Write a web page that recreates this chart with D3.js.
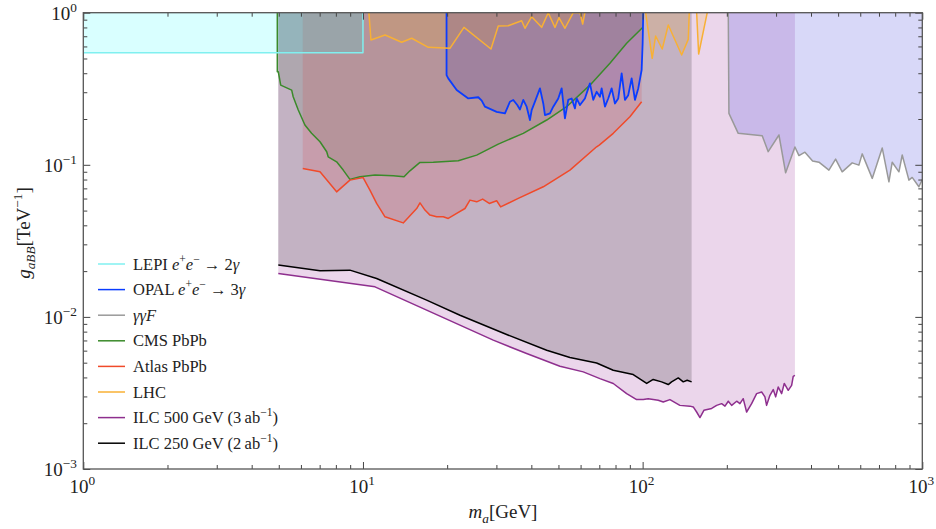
<!DOCTYPE html>
<html>
<head>
<meta charset="utf-8">
<script src="https://cdn.jsdelivr.net/npm/d3@7/dist/d3.min.js"></script>
<style>
  body { margin: 0; background: #fff; }
  text { font-family: "Liberation Serif", "DejaVu Serif", serif; fill: #222; }
</style>
</head>
<body>
<script>
// limits, [m_a in GeV, g_aBB in TeV^-1]
const lepi = [[1, 0.545], [10, 0.545], [10, 1]];
const opal = [[19.9, 1], [19.9, 0.389], [20.18, 0.370], [21.63, 0.310], [23.80, 0.273], [25.84, 0.278],
  [26.58, 0.264], [27.31, 0.241], [30.06, 0.223], [32.19, 0.218], [33.55, 0.260], [34.47, 0.267],
  [35.62, 0.247], [36.42, 0.231], [37.42, 0.267], [38.48, 0.241], [39.54, 0.197], [40.11, 0.229],
  [41.21, 0.260], [42.94, 0.318], [44.13, 0.253], [44.75, 0.212], [46.63, 0.218], [47.91, 0.241],
  [49.93, 0.273], [51.34, 0.318], [52.75, 0.202], [54.20, 0.267], [55.74, 0.273], [57.28, 0.235],
  [58.09, 0.273], [59.69, 0.247], [62.18, 0.273], [64.80, 0.343], [66.59, 0.267], [68.47, 0.302],
  [70.36, 0.280], [71.36, 0.318], [73.33, 0.241], [75.34, 0.273], [77.49, 0.318], [79.62, 0.253],
  [81.82, 0.273], [84.14, 0.399], [86.45, 0.267], [88.83, 0.287], [91.35, 0.370], [93.87, 0.267],
  [96.45, 0.318], [99.18, 0.420], [100, 0.629], [100.5, 1]];
const ggf = [[202.4, 1], [203.5, 0.218], [219.7, 0.161], [267.7, 0.155], [281.2, 0.122], [307.2, 0.157],
  [324.6, 0.0886], [350.4, 0.131], [362.2, 0.115], [380.5, 0.121], [405.3, 0.106], [426.9, 0.104],
  [463.6, 0.0923], [489.8, 0.109], [517.1, 0.0899], [561.5, 0.103], [593.3, 0.0995], [609.7, 0.118],
  [662.2, 0.0814], [718.9, 0.129], [759.7, 0.0773], [780.6, 0.104], [824.9, 0.0899], [847.6, 0.116],
  [895.6, 0.0793], [920.2, 0.0826], [972.3, 0.0717], [1000, 0.08]];
const cms = [[4.94, 1], [4.94, 0.409], [4.98, 0.409], [5.08, 0.334], [5.56, 0.310], [5.63, 0.280],
  [5.87, 0.229], [6.20, 0.1825], [6.55, 0.161], [7.02, 0.1417], [7.42, 0.1218], [7.51, 0.1129],
  [8.05, 0.1046], [8.50, 0.0923], [8.98, 0.0802], [9.76, 0.0834], [11.04, 0.0856], [12.83, 0.0847],
  [14.02, 0.0834], [14.72, 0.0913], [15.99, 0.1037], [17.84, 0.104], [21.92, 0.1063], [25.50, 0.1158],
  [30.46, 0.1368], [37.42, 0.161], [45.39, 0.197], [53.50, 0.241], [64.80, 0.334], [76.40, 0.465],
  [87.67, 0.629], [100, 0.80]];
const atlas = [[6.09, 0.0947], [7.02, 0.0899], [8.05, 0.0664], [8.98, 0.0793], [10.0, 0.0826],
  [10.59, 0.0682], [11.19, 0.0557], [11.99, 0.0455], [13.93, 0.0415], [15.56, 0.0516], [15.99, 0.0562],
  [16.66, 0.0504], [17.36, 0.0467], [18.34, 0.0455], [19.37, 0.0455], [20.18, 0.0444], [21.63, 0.0479],
  [23.16, 0.0516], [24.13, 0.0586], [25.50, 0.0571], [26.79, 0.0595], [28.29, 0.0557], [30.06, 0.0580],
  [31.07, 0.0529], [35.92, 0.0601], [44.13, 0.0717], [54.96, 0.0923], [68.47, 0.1314], [69.95, 0.1348],
  [78.51, 0.161], [90.06, 0.207], [99.18, 0.260]];
const lhc = [[10.5, 1.0], [10.68, 0.661], [12.0, 0.713], [13.75, 0.639], [14.94, 0.679], [17.12, 0.592],
  [20.46, 0.583], [22.97, 0.801], [28.69, 0.577], [30.46, 0.818], [33.07, 0.821], [36.93, 0.886],
  [37.95, 0.790], [40.11, 0.941], [43.54, 0.801], [45.97, 1.0], [48.59, 0.80], [50.21, 0.927],
  [52.75, 0.790], [56.48, 1.0], [59.69, 1.0], [61.03, 0.843], [62.18, 1.0], [70, 1.3], [100, 1.3],
  [102.5, 1.0], [108.2, 0.501], [111.3, 0.703], [117.5, 0.577], [123.5, 0.830], [137.9, 0.527],
  [145.6, 0.668], [146.8, 1.0], [150, 1.3], [156, 1.0], [158.6, 0.535], [170.2, 1.0]];
const ilc500 = [[4.98, 0.0193], [11.04, 0.01576], [16.89, 0.01107], [29.23, 0.00703], [38.48, 0.00574],
  [50.62, 0.00474], [61.33, 0.00435], [70.36, 0.00393], [78.51, 0.00365], [87.67, 0.00313],
  [95.18, 0.00286], [100.5, 0.00286], [104.7, 0.00290], [113.7, 0.00283], [118.5, 0.00276],
  [125.2, 0.00286], [135.9, 0.00262], [147.6, 0.00259], [151.7, 0.00256], [156.0, 0.00237],
  [160.3, 0.00218], [165.6, 0.00243], [176.5, 0.00250], [183.9, 0.00262], [191.6, 0.00269],
  [197.0, 0.00259], [202.4, 0.00279], [208.1, 0.00262], [216.9, 0.00279], [222.8, 0.00269],
  [228.9, 0.00290], [235.4, 0.00237], [245.3, 0.00269], [255.6, 0.00313], [266.4, 0.00321],
  [273.7, 0.00298], [277.5, 0.00262], [285.2, 0.00305], [293.1, 0.00333], [299.0, 0.00298],
  [305.4, 0.00346], [314.1, 0.00313], [320.9, 0.00365], [331.6, 0.00329], [341.0, 0.00355],
  [345.5, 0.00407], [350.4, 0.00413]];
const ilc250 = [[4.98, 0.0219], [7.02, 0.0201], [8.98, 0.0203], [11.19, 0.0179], [16.89, 0.01288],
  [22.23, 0.01026], [32.64, 0.00766], [45.39, 0.00604], [54.96, 0.00541], [68.47, 0.00498],
  [78.51, 0.00446], [92.55, 0.00418], [103.4, 0.00365], [109.1, 0.00388], [116.9, 0.00374],
  [123.5, 0.00359], [126.9, 0.00374], [134.1, 0.00397], [139.7, 0.00374], [144.3, 0.00383],
  [149.7, 0.00374]];

const xMajor = [1, 10, 100, 1000];
const yMajor = [0.001, 0.01, 0.1, 1];
const xExp = ["0", "1", "2", "3"];
const yExp = ["\u22123", "\u22122", "\u22121", "0"];

const w = 936, h = 529;
const x = d3.scaleLog().domain([1, 1000]).range([83.3, 922.3]);
const y = d3.scaleLog().domain([0.001, 1]).range([469, 12.7]);
const yTop = y(1);

const svg = d3.select("body").append("svg").attr("width", w).attr("height", h);

svg.append("clipPath").attr("id", "clip")
  .append("rect").attr("x", x(1)).attr("y", y(1))
  .attr("width", x(1000) - x(1)).attr("height", y(0.001) - y(1));

const plot = svg.append("g").attr("clip-path", "url(#clip)");

const area = d3.area().x(d => x(d[0])).y0(d => y(d[1])).y1(yTop);
const line = d3.line().x(d => x(d[0])).y(d => y(d[1]));

// fills first, lines on top
const series = [
  { data: ilc500, fill: "#800080", fo: 0.16, stroke: "#8e2f8e", sw: 1.5 },
  { data: ilc250, fill: "#000000", fo: 0.17, stroke: "#000000", sw: 1.5 },
  { data: ggf, fill: "rgb(99,99,227)", fo: 0.25, stroke: "#999999", sw: 1.5 },
  { data: cms, fill: "#3a6a3a", fo: 0.15, stroke: "#3a8a2a", sw: 1.5 },
  { data: atlas, fill: "#dc2828", fo: 0.15, stroke: "#f04a2a", sw: 1.5 },
  { data: opal, fill: "#2a1ab8", fo: 0.15, stroke: "#0a3cff", sw: 1.8 },
  { data: lhc, fill: "#ffa500", fo: 0.15, stroke: "#f8b035", sw: 1.5 },
  { data: lepi, fill: "#00ffff", fo: 0.15, stroke: "#80f0f0", sw: 1.5 }
];

series.forEach(s => {
  plot.append("path").datum(s.data).attr("d", area)
    .attr("fill", s.fill).attr("fill-opacity", s.fo).attr("stroke", "none");
});
[3, 4, 5, 6, 7, 2, 0, 1].forEach(i => {
  const s = series[i];
  plot.append("path").datum(s.data).attr("d", line)
    .attr("fill", "none").attr("stroke", s.stroke).attr("stroke-width", s.sw)
    .attr("stroke-linejoin", "round");
});

// ticks (inward on all sides)
const minors = (lo, hi) => {
  const out = [];
  for (let d = lo; d < hi; d *= 10) for (let k = 2; k <= 9; k++) out.push(d * k);
  return out;
};
const xMinor = minors(1, 1000), yMinor = minors(0.001, 1);
const axes = [
  [d3.axisBottom(x), "translate(0," + y(0.001) + ")", xMajor, xMinor],
  [d3.axisTop(x), "translate(0," + y(1) + ")", xMajor, xMinor],
  [d3.axisLeft(y), "translate(" + x(1) + ",0)", yMajor, yMinor],
  [d3.axisRight(y), "translate(" + x(1000) + ",0)", yMajor, yMinor]
];
axes.forEach(a => {
  [[a[2], -7], [a[3], -4]].forEach(t => {
    const g = svg.append("g").attr("transform", a[1])
      .call(a[0].tickValues(t[0]).tickSize(t[1]).tickFormat(() => ""));
    g.select(".domain").remove();
    g.selectAll("line").attr("stroke", "#444").attr("stroke-width", 1);
  });
});
svg.append("rect").attr("x", x(1)).attr("y", y(1))
  .attr("width", x(1000) - x(1)).attr("height", y(0.001) - y(1))
  .attr("fill", "none").attr("stroke", "#555").attr("stroke-width", 1.3);

// rich text helper: parts = [text, style] with style "i", "sup", "sub", "isub"
function rich(sel, parts, size) {
  let shift = 0;
  parts.forEach(p => {
    const st = p[1] || "";
    const want = st.includes("sup") ? -0.42 * size : st.includes("sub") ? 0.25 * size : 0;
    const ts = sel.append("tspan").text(p[0]).attr("dy", want - shift);
    shift = want;
    if (st.includes("i")) ts.attr("font-style", "italic");
    if (st.includes("sup") || st.includes("sub")) ts.attr("font-size", size * 0.7);
  });
}

xMajor.forEach((v, i) => {
  const t = svg.append("text").attr("x", x(v) - 1).attr("y", 493)
    .attr("text-anchor", "middle").attr("font-size", 19);
  rich(t, [["10"], [xExp[i], "sup"]], 19);
});
yMajor.forEach((v, i) => {
  const t = svg.append("text").attr("x", 77).attr("y", y(v) + 7)
    .attr("text-anchor", "end").attr("font-size", 19);
  rich(t, [["10"], [yExp[i], "sup"]], 19);
});

const xl = svg.append("text").attr("x", 503).attr("y", 518)
  .attr("text-anchor", "middle").attr("font-size", 19);
rich(xl, [["m", "i"], ["a", "isub"], ["[GeV]"]], 19);

const yl = svg.append("text").attr("transform", "translate(30,233) rotate(-90)")
  .attr("text-anchor", "middle").attr("font-size", 19);
rich(yl, [["g", "i"], ["aBB", "isub"], ["[TeV"], ["\u22121", "sup"], ["]"]], 19);

// legend
const legendLabels = [
  [["LEPI "], ["e", "i"], ["+", "sup"], ["e", "i"], ["\u2212", "sup"], [" \u2192 2"], ["\u03b3", "i"]],
  [["OPAL "], ["e", "i"], ["+", "sup"], ["e", "i"], ["\u2212", "sup"], [" \u2192 3"], ["\u03b3", "i"]],
  [["\u03b3\u03b3F", "i"]],
  [["CMS PbPb"]],
  [["Atlas PbPb"]],
  [["LHC"]],
  [["ILC 500 GeV (3\u2009ab"], ["\u22121", "sup"], [")"]],
  [["ILC 250 GeV (2\u2009ab"], ["\u22121", "sup"], [")"]]
];
const legendColors = ["#80f0f0", "#0a3cff", "#999999", "#3a8a2a", "#f04a2a", "#f8b035", "#8e2f8e", "#000000"];
legendLabels.forEach((lab, i) => {
  const cy = 264 + i * 25.6;
  svg.append("line").attr("x1", 98).attr("x2", 125).attr("y1", cy).attr("y2", cy)
    .attr("stroke", legendColors[i]).attr("stroke-width", 1.5);
  const t = svg.append("text").attr("x", 133).attr("y", cy + 5.5).attr("font-size", 16.5);
  rich(t, lab, 16.5);
});
</script>
</body>
</html>
